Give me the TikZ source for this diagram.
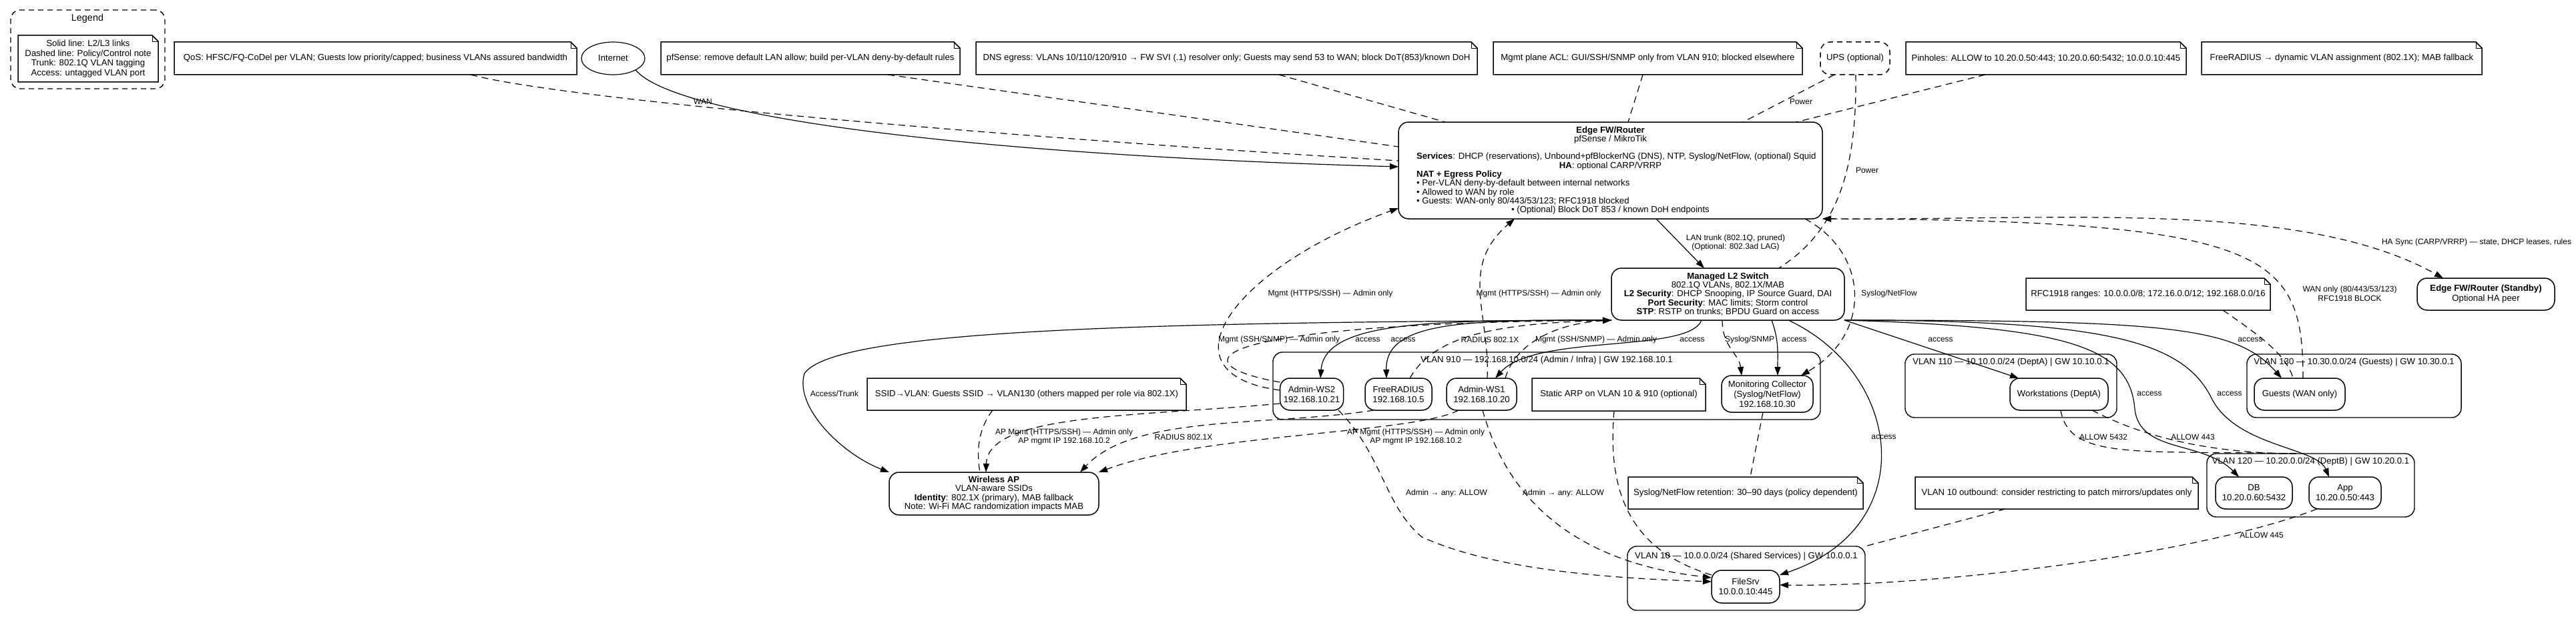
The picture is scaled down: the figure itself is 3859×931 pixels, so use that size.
\documentclass[tikz,border=0pt]{standalone}
\usepackage{fontspec}
\setmainfont{Liberation Sans}
\usetikzlibrary{arrows.meta,shapes.geometric}
\newcommand\dgfont{\fontsize{13.2}{15}\selectfont}
\newcommand\dgtight{\fontsize{13.2}{13.3}\selectfont}
\newcommand\dgleg{\fontsize{13.2}{14.8}\selectfont}
\newcommand\dglbl{\fontsize{12}{13.5}\selectfont}
\newcommand\lft[1]{\makebox[581pt][l]{#1}}
\newcommand\drawnote[1]{%
  \draw[line width=1.5pt,line join=miter] (#1.north west) -- ([xshift=-9pt]#1.north east) -- ([yshift=-9pt]#1.north east) -- (#1.south east) -- (#1.south west) -- cycle;
  \draw[line width=0.9pt] ([xshift=-9pt]#1.north east) -- ([xshift=-9pt,yshift=-9pt]#1.north east) -- ([yshift=-9pt]#1.north east);}
\begin{document}
\begin{tikzpicture}[x=1pt,y=-1pt,line join=round,
 every node/.style={font=\dgfont,inner sep=0pt,outer sep=0pt},
 nodebox/.style={draw,line width=1.5pt,rounded corners=15pt,align=center},
 clusterbox/.style={draw,line width=1.4pt,rounded corners=14pt},
 notebox/.style={align=center},
 clbl/.style={align=center},
 lbl/.style={align=center,font=\dglbl},
 ln/.style={line width=1.2pt},
 dl/.style={line width=1.2pt,dash pattern=on 10pt off 7pt},
 arr/.style={-{Triangle[length=13pt,width=9pt]}},
 arrb/.style={{Triangle[length=13pt,width=9pt]}-{Triangle[length=13pt,width=9pt]}}]
\fill[white] (0,0) rectangle (3859,931);
\useasboundingbox (0,0) rectangle (3859,931);

% ---------- legend ----------
\node[draw,line width=1.4pt,dash pattern=on 8pt off 6pt,rounded corners=14pt,minimum width=231pt,minimum height=118pt] (legendbox) at (131.5,74) {};
\node[clbl,font=\fontsize{14.4}{15}\selectfont] (legendtitle) at (131,28) {Legend};
\node[notebox,font=\dgleg,minimum width=210pt,minimum height=70pt] (legendnote) at (132,88) {Solid line: L2/L3 links\\Dashed line: Policy/Control note\\Trunk: 802.1Q VLAN tagging\\Access: untagged VLAN port};
\drawnote{legendnote}

% ---------- top row ----------
\node[notebox,minimum width=603pt,minimum height=49pt] (qos) at (562.5,87.5) {QoS: HFSC/FQ-CoDel per VLAN; Guests low priority/capped; business VLANs assured bandwidth};
\drawnote{qos}
\node[draw,ellipse,line width=1.2pt,minimum width=95pt,minimum height=49pt] (internet) at (918.5,87.5) {Internet};
\node[notebox,minimum width=448pt,minimum height=49pt] (pfsense) at (1214,87.5) {pfSense: remove default LAN allow; build per-VLAN deny-by-default rules};
\drawnote{pfsense}
\node[notebox,minimum width=751pt,minimum height=49pt] (dns) at (1837.5,87.5) {DNS egress: VLANs 10/110/120/910 → FW SVI (.1) resolver only; Guests may send 53 to WAN; block DoT(853)/known DoH};
\drawnote{dns}
\node[notebox,minimum width=463pt,minimum height=49pt] (mgmtacl) at (2468.5,87.5) {Mgmt plane ACL: GUI/SSH/SNMP only from VLAN 910; blocked elsewhere};
\drawnote{mgmtacl}
\node[draw,line width=1.5pt,dash pattern=on 8pt off 6pt,rounded corners=15pt,minimum width=104pt,minimum height=49pt] (ups) at (2779,87.5) {UPS (optional)};
\node[notebox,minimum width=420pt,minimum height=49pt] (pinholes) at (3065,87.5) {Pinholes: ALLOW to 10.20.0.50:443; 10.20.0.60:5432; 10.0.0.10:445};
\drawnote{pinholes}
\node[notebox,minimum width=420pt,minimum height=49pt] (radiusnote) at (3508,87.5) {FreeRADIUS → dynamic VLAN assignment (802.1X); MAB fallback};
\drawnote{radiusnote}

% ---------- core ----------
\node[nodebox,font=\dgtight,minimum width=635pt,minimum height=145pt] (edge) at (2412.5,255.5) {\textbf{Edge FW/Router}\\pfSense / MikroTik\\[13.3pt]\lft{\textbf{Services}: DHCP (reservations), Unbound+pfBlockerNG (DNS), NTP, Syslog/NetFlow, (optional) Squid}\\\textbf{HA}: optional CARP/VRRP\\\lft{\textbf{NAT + Egress Policy}}\\\lft{• Per-VLAN deny-by-default between internal networks}\\\lft{• Allowed to WAN by role}\\\lft{• Guests: WAN-only 80/443/53/123; RFC1918 blocked}\\• (Optional) Block DoT 853 / known DoH endpoints};
\node[nodebox,font=\dgtight,minimum width=349pt,minimum height=78pt] (switch) at (2588.5,441) {\textbf{Managed L2 Switch}\\802.1Q VLANs, 802.1X/MAB\\\textbf{L2 Security}: DHCP Snooping, IP Source Guard, DAI\\\textbf{Port Security}: MAC limits; Storm control\\\textbf{STP}: RSTP on trunks; BPDU Guard on access};
\node[notebox,minimum width=366pt,minimum height=48pt] (rfcnote) at (3218,441) {RFC1918 ranges: 10.0.0.0/8; 172.16.0.0/12; 192.168.0.0/16};
\drawnote{rfcnote}
\node[nodebox,minimum width=206pt,minimum height=48pt] (standby) at (3724,441) {\textbf{Edge FW/Router (Standby)}\\Optional HA peer};

% ---------- clusters ----------
\node[clusterbox,minimum width=820pt,minimum height=101pt] (vlan910) at (2317,578.5) {};
\node[clbl] (vlan910lbl) at (2317,540) {VLAN 910 — 192.168.10.0/24 (Admin / Infra) | GW 192.168.10.1};
\node[clusterbox,minimum width=317pt,minimum height=95pt] (vlan110) at (3012.5,578.5) {};
\node[clbl] (vlan110lbl) at (3012.5,543) {VLAN 110 — 10.10.0.0/24 (DeptA) | GW 10.10.0.1};
\node[clusterbox,minimum width=321pt,minimum height=95pt] (vlan130) at (3526.5,578.5) {};
\node[clbl] (vlan130lbl) at (3526.5,543) {VLAN 130 — 10.30.0.0/24 (Guests) | GW 10.30.0.1};
\node[clusterbox,minimum width=311pt,minimum height=95pt] (vlan120) at (3461.5,727.5) {};
\node[clbl] (vlan120lbl) at (3461.5,692) {VLAN 120 — 10.20.0.0/24 (DeptB) | GW 10.20.0.1};
\node[clusterbox,minimum width=356pt,minimum height=96pt] (vlan10) at (2616,867) {};
\node[clbl] (vlan10lbl) at (2616,834) {VLAN 10 — 10.0.0.0/24 (Shared Services) | GW 10.0.0.1};

% ---------- hosts ----------
\node[nodebox,minimum width=95pt,minimum height=48pt] (ws2) at (1965,591) {Admin-WS2\\192.168.10.21};
\node[nodebox,minimum width=100pt,minimum height=48pt] (freeradius) at (2095,591) {FreeRADIUS\\192.168.10.5};
\node[nodebox,minimum width=105pt,minimum height=48pt] (ws1) at (2219.5,591) {Admin-WS1\\192.168.10.20};
\node[notebox,minimum width=260pt,minimum height=49pt] (staticarp) at (2425,591.5) {Static ARP on VLAN 10 \& 910 (optional)};
\drawnote{staticarp}
\node[nodebox,minimum width=137pt,minimum height=55pt] (collector) at (2647.5,590.5) {Monitoring Collector\\(Syslog/NetFlow)\\192.168.10.30};
\node[nodebox,minimum width=147pt,minimum height=48pt] (workstations) at (3084.5,591) {Workstations (DeptA)};
\node[nodebox,minimum width=136pt,minimum height=48pt] (guests) at (3445,591) {Guests (WAN only)};
\node[notebox,minimum width=478pt,minimum height=48pt] (ssidnote) at (1538,591) {SSID→VLAN: Guests SSID → VLAN130 (others mapped per role via 802.1X)};
\drawnote{ssidnote}
\node[nodebox,font=\dgtight,minimum width=314pt,minimum height=64pt] (ap) at (1489,740) {\textbf{Wireless AP}\\VLAN-aware SSIDs\\\textbf{Identity}: 802.1X (primary), MAB fallback\\Note: Wi-Fi MAC randomization impacts MAB};
\node[notebox,minimum width=352pt,minimum height=48pt] (retention) at (2615,739) {Syslog/NetFlow retention: 30–90 days (policy dependent)};
\drawnote{retention}
\node[notebox,minimum width=424pt,minimum height=48pt] (vlan10out) at (3081,739) {VLAN 10 outbound: consider restricting to patch mirrors/updates only};
\drawnote{vlan10out}
\node[nodebox,minimum width=115pt,minimum height=48pt] (db) at (3376.5,739) {DB\\10.20.0.60:5432};
\node[nodebox,minimum width=108pt,minimum height=48pt] (app) at (3513,739) {App\\10.20.0.50:443};
\node[nodebox,minimum width=102pt,minimum height=49pt] (filesrv) at (2615,879.5) {FileSrv\\10.0.0.10:445};

% ---------- connectors: top ----------
\draw[ln,arr] (internet.south east) .. controls (1010,175) and (1450,232) .. (edge.west |- 0,250);
\draw[dl] (qos.south -| 705,0) .. controls (850,150) and (1500,205) .. (edge.west |- 0,241);
\draw[dl] (pfsense.south -| 1330,0) -- (edge.west |- 0,220);
\draw[dl] (dns.south -| 1916,0) -- (edge.north -| 2165,0);
\draw[dl] (mgmtacl.south -| 2461,0) -- (edge.north -| 2439,0);
\draw[dl] (ups.south -| 2748,0) -- (edge.north -| 2611,0);
\draw[dl] (pinholes.south -| 2974,0) -- (edge.north -| 2691,0);
\draw[dl] (ups.south -| 2780,0) .. controls (2782,270) and (2745,350) .. (switch.north -| 2665,0);
\draw[dl,arr] (edge.south -| 2704,0) .. controls (2800,380) and (2805,500) .. (collector.north -| 2698,0);
\draw[ln,arr] (edge.south -| 2481,0) -- (switch.north -| 2553,0);
\draw[dl,arrb] (edge.south east) .. controls (3100,330) and (3450,300) .. (standby.north -| 3660,0);
\draw[dl,arr] (guests.north -| 3450,0) .. controls (3450,380) and (3400,330) .. (edge.south east);
\draw[dl] (rfcnote.south -| 3330,0) .. controls (3380,500) and (3425,530) .. (guests.north -| 3435,0);

% ---------- connectors: admin / mgmt ----------
\draw[dl,arr] (ws2.west |- 0,585) .. controls (1730,560) and (1850,400) .. (edge.west |- 0,312);
\draw[dl,arr] (ws2.west |- 0,573) .. controls (1760,545) and (1800,485) .. (switch.south west);
\draw[ln,arr] (switch.south west) .. controls (2150,480) and (1985,480) .. (ws2.north -| 1978,0);
\draw[ln,arr] (switch.south west) .. controls (2200,480) and (2075,480) .. (freeradius.north -| 2077,0);
\draw[dl,arr] (freeradius.north -| 2112,0) .. controls (2150,500) and (2250,485) .. (switch.south west);
\draw[dl,arr] (ws1.north -| 2228,0) .. controls (2232,470) and (2185,400) .. (edge.south -| 2269,0);
\draw[dl,arr] (ws1.north -| 2255,0) .. controls (2270,515) and (2330,485) .. (switch.south west);
\draw[ln,arr] (switch.south -| 2549,0) .. controls (2530,530) and (2300,500) .. (ws1.north -| 2240,0);
\draw[dl,arr] (switch.south -| 2580,0) .. controls (2580,520) and (2605,530) .. (collector.north -| 2609,0);
\draw[ln,arr] (switch.south -| 2654,0) .. controls (2665,510) and (2663,530) .. (collector.north -| 2663,0);
\draw[ln,arr] (switch.south -| 2679,0) .. controls (2850,560) and (2880,790) .. (filesrv.east |- 0,862);
\draw[ln,arr] (switch.south east) -- (workstations.north -| 3024,0);
\draw[ln,arr] (switch.south east) .. controls (3100,490) and (3190,520) .. (3198,613) .. controls (3205,680) and (3300,660) .. (db.north -| 3354,0);
\draw[ln,arr] (switch.south east) .. controls (3150,480) and (3270,510) .. (3313,597) .. controls (3350,670) and (3470,670) .. (app.north -| 3489,0);
\draw[ln,arr] (switch.south east) .. controls (3250,480) and (3350,490) .. (guests.north -| 3418,0);
\draw[ln,arr] (switch.south west) .. controls (1700,483) and (1250,495) .. (1205,560) .. controls (1190,610) and (1260,680) .. (ap.north west);

% ---------- connectors: AP ----------
\draw[dl,arr] (ws2.west |- 0,605) .. controls (1700,625) and (1480,620) .. (ap.north -| 1477,0);
\draw[dl,arr] (freeradius.south -| 2058,0) .. controls (1900,640) and (1700,620) .. (ap.north -| 1618,0);
\draw[dl,arr] (ws1.south -| 2185,0) .. controls (2120,650) and (1800,650) .. (ap.north east);
\draw[dl] (ssidnote.south -| 1487,0) .. controls (1460,650) and (1465,690) .. (ap.north -| 1468,0);

% ---------- connectors: servers ----------
\draw[dl,arr] (ws2.south -| 2005,0) .. controls (2070,680) and (2075,760) .. (2130,805) .. controls (2250,860) and (2450,868) .. (filesrv.west |- 0,872);
\draw[dl,arr] (ws1.south -| 2221,0) .. controls (2250,720) and (2330,840) .. (filesrv.west |- 0,866);
\draw[dl] (staticarp.south -| 2418,0) .. controls (2405,760) and (2460,830) .. (filesrv.west |- 0,862);
\draw[dl] (collector.south -| 2641,0) -- (retention.north -| 2622,0);
\draw[dl] (vlan10out.south -| 3004,0) -- (vlan10.north east);
\draw[dl,arr] (app.south -| 3471,0) .. controls (3300,830) and (2900,880) .. (filesrv.east |- 0,877);
\draw[dl] (workstations.south -| 3087,0) .. controls (3100,690) and (3200,675) .. (vlan120.north -| 3440,0);
\draw[dl] (workstations.south -| 3134,0) .. controls (3200,650) and (3300,680) .. (vlan120.north -| 3440,0);

% ---------- edge labels ----------
\node[lbl] (lWAN) at (1053,152) {WAN};
\node[lbl] (lTrunk) at (2600,364) {LAN trunk (802.1Q, pruned)\\(Optional: 802.3ad LAG)};
\node[lbl] (lPower1) at (2698,152) {Power};
\node[lbl] (lPower2) at (2797,255) {Power};
\node[lbl] (lSyslogNF) at (2830,440) {Syslog/NetFlow};
\node[lbl] (lHA) at (3710,363) {HA Sync (CARP/VRRP) — state, DHCP leases, rules};
\node[lbl] (lWANonly) at (3520,440) {WAN only (80/443/53/123)\\RFC1918 BLOCK};
\node[lbl] (lMgmtH1) at (1993,440) {Mgmt (HTTPS/SSH) — Admin only};
\node[lbl] (lMgmtH2) at (2305,440) {Mgmt (HTTPS/SSH) — Admin only};
\node[lbl] (lMgmtS1) at (1916,509) {Mgmt (SSH/SNMP) — Admin only};
\node[lbl] (lAcc1) at (2049,509) {access};
\node[lbl] (lAcc2) at (2102,509) {access};
\node[lbl] (lRad1) at (2232,509) {RADIUS 802.1X};
\node[lbl] (lMgmtS2) at (2391,509) {Mgmt (SSH/SNMP) — Admin only};
\node[lbl] (lAcc3) at (2535,509) {access};
\node[lbl] (lSysSNMP) at (2621,509) {Syslog/SNMP};
\node[lbl] (lAcc4) at (2688,509) {access};
\node[lbl] (lAcc5) at (2907,509) {access};
\node[lbl] (lAcc6) at (3371,509) {access};
\node[lbl] (lAcc7) at (3220,590) {access};
\node[lbl] (lAcc8) at (3340,590) {access};
\node[lbl] (lAcc9) at (2822,655) {access};
\node[lbl] (lAccTrunk) at (1250,590) {Access/Trunk};
\node[lbl] (lAPM1) at (1594,655) {AP Mgmt (HTTPS/SSH) — Admin only\\AP mgmt IP 192.168.10.2};
\node[lbl] (lRad2) at (1773,655) {RADIUS 802.1X};
\node[lbl] (lAPM2) at (2121,655) {AP Mgmt (HTTPS/SSH) — Admin only\\AP mgmt IP 192.168.10.2};
\node[lbl] (lAny1) at (2167,739) {Admin → any: ALLOW};
\node[lbl] (lAny2) at (2342,739) {Admin → any: ALLOW};
\node[lbl] (lA5432) at (3151,655) {ALLOW 5432};
\node[lbl] (lA443) at (3285,655) {ALLOW 443};
\node[lbl] (lA445) at (3388,802) {ALLOW 445};
\end{tikzpicture}
\end{document}
